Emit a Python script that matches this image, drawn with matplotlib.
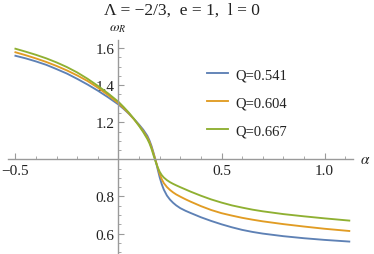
import numpy as np
import matplotlib
matplotlib.use("Agg")
import matplotlib.pyplot as plt
from matplotlib.ticker import MultipleLocator, FixedLocator

# ----------------------------------------
# Data
# ----------------------------------------
alpha = [-0.5, -0.45, -0.4, -0.35, -0.3, -0.25, -0.2, -0.15, -0.1, -0.05,
         0.0,
         0.025, 0.05, 0.075, 0.1,
         0.12, 0.14, 0.15, 0.16, 0.17, 0.18, 0.19, 0.2,
         0.21, 0.22, 0.235, 0.25, 0.265, 0.28, 0.3, 0.325, 0.35,
         0.4, 0.45, 0.5, 0.55, 0.6, 0.65, 0.7,
         0.8, 0.9, 1.0, 1.12]

omega_q541 = [1.558, 1.544, 1.5275, 1.509, 1.486, 1.462, 1.4335, 1.403, 1.37, 1.334,
              1.2955,
              1.272, 1.246, 1.218, 1.187,
              1.16, 1.127, 1.103, 1.073, 1.036, 0.995, 0.948, 0.903,
              0.866, 0.837, 0.805, 0.783, 0.766, 0.752, 0.737, 0.723, 0.711,
              0.688, 0.668, 0.65, 0.634, 0.62, 0.609, 0.6,
              0.586, 0.575, 0.566, 0.557]
omega_q604 = [1.577, 1.561, 1.5435, 1.5245, 1.503, 1.479, 1.452, 1.422, 1.386, 1.346,
              1.302,
              1.276, 1.248, 1.216, 1.182,
              1.152, 1.117, 1.095, 1.065, 1.03, 0.995, 0.957, 0.921,
              0.893, 0.872, 0.851, 0.835, 0.822, 0.811, 0.799, 0.785, 0.772,
              0.748, 0.727, 0.71, 0.697, 0.685, 0.675, 0.666,
              0.651, 0.638, 0.626, 0.614]
omega_q667 = [1.596, 1.58, 1.563, 1.544, 1.522, 1.497, 1.468, 1.434, 1.396, 1.355,
              1.31,
              1.282, 1.252, 1.218, 1.18,
              1.147, 1.11, 1.087, 1.058, 1.022, 0.988, 0.958, 0.933,
              0.915, 0.902, 0.888, 0.877, 0.868, 0.86, 0.85, 0.838, 0.826,
              0.804, 0.784, 0.767, 0.752, 0.74, 0.729, 0.72,
              0.705, 0.693, 0.682, 0.67]

labels = ["Q=0.541", "Q=0.604", "Q=0.667"]
colors = ["#5E81B5", "#E19C24", "#8FB032"]

x_ticks = [-0.5, 0.5, 1.0]
y_ticks = [0.6, 0.8, 1.2, 1.4, 1.6]

# ----------------------------------------
# Plot
# ----------------------------------------
plt.rcParams['font.family'] = ['Liberation Serif', 'DejaVu Serif']
plt.rcParams['mathtext.fontset'] = 'stix'

fig = plt.figure(figsize=(3.74, 2.55), dpi=100)
ax = fig.add_axes([8 / 374, 0.0, 345 / 374, 214 / 255])
ax.patch.set_alpha(0)

for ys, lab, c in zip([omega_q541, omega_q604, omega_q667], labels, colors):
    ax.plot(alpha, ys, color=c, lw=1.35, label=lab)

ax.set_xlim(-0.536, 1.138)
ax.set_ylim(0.49, 1.643)

axis_col = '#9a9a9a'
ax.spines['left'].set_position(('data', 0))
ax.spines['bottom'].set_position(('data', 1.0))
ax.spines['right'].set_visible(False)
ax.spines['top'].set_visible(False)
for s in ['left', 'bottom']:
    ax.spines[s].set_color(axis_col)
    ax.spines[s].set_linewidth(1.0)

ax.xaxis.set_major_locator(FixedLocator(x_ticks))
ax.xaxis.set_minor_locator(MultipleLocator(0.1))
ax.yaxis.set_major_locator(FixedLocator(y_ticks))
ax.yaxis.set_minor_locator(MultipleLocator(0.05))
ax.set_xticklabels(["\u22120.5", "0.5", "1.0"])
ax.set_yticklabels(["0.6", "0.8", "1.2", "1.4", "1.6"])
ax.tick_params(which='major', direction='in', length=4, width=0.8, color=axis_col,
               labelsize=11, labelcolor='#222222', pad=3)
ax.tick_params(which='minor', direction='in', length=2.2, width=0.6, color=axis_col)

fig.text(365 / 374, 1 - 160 / 255, r'$\alpha$', fontsize=11, ha='center', va='center',
         color='#222222')
fig.text(118 / 374, 1 - 29 / 255, r'$\omega_R$', fontsize=10, ha='center', va='center',
         color='#222222')
fig.text(182 / 374, 1 - 11 / 255, "\u039b = \u22122/3,  e = 1,  l = 0", fontsize=12.5,
         ha='center', va='center', color='#222222')

leg = ax.legend(loc='upper left', bbox_to_anchor=(207 / 374, 1 - 69 / 255),
                bbox_transform=fig.transFigure, frameon=False, fontsize=10.5,
                handlelength=1.45, handletextpad=0.5, labelspacing=1.02, borderaxespad=0,
                borderpad=0)
for t in leg.get_texts():
    t.set_color('#222222')

fig.savefig("out.png", dpi=100)
